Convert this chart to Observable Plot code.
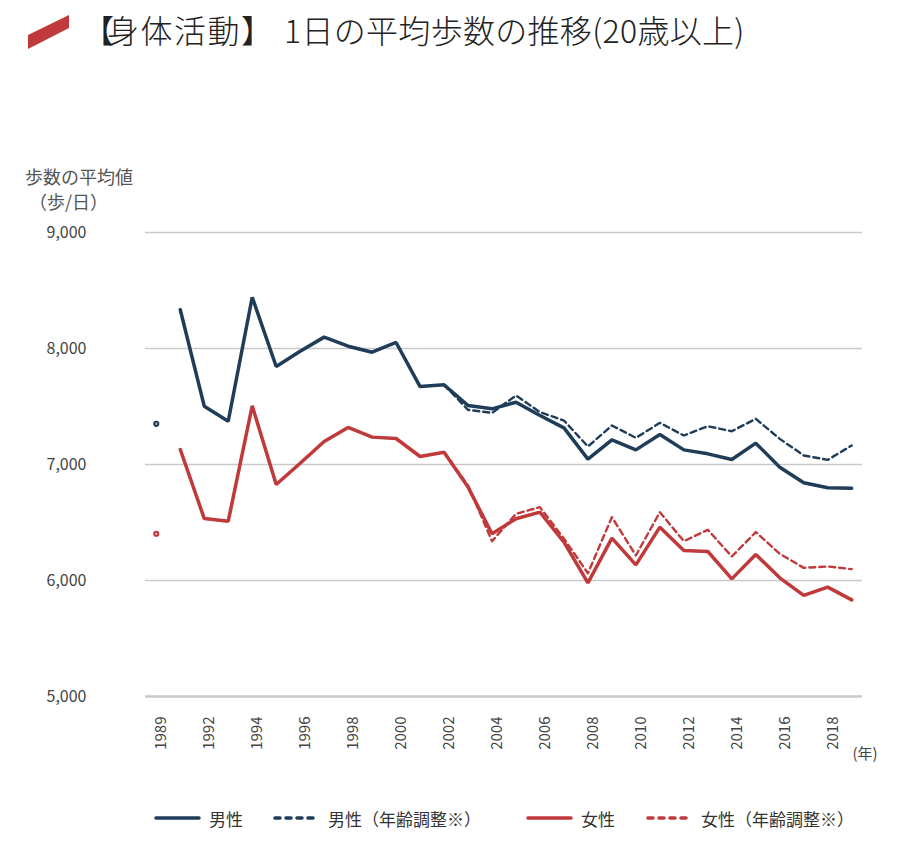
<!DOCTYPE html>
<html><head><meta charset="utf-8">
<script src="https://cdn.jsdelivr.net/npm/d3@7"></script>
<script src="https://cdn.jsdelivr.net/npm/@observablehq/plot@0.6"></script>
<style>
body{margin:0;background:#fff;font-family:"Noto Sans CJK JP","Noto Sans",sans-serif;}
#wrap{position:relative;width:906px;height:842px;overflow:hidden;}
.abs{position:absolute;}
#title{left:82px;top:9px;font-size:32px;color:#222;white-space:nowrap;line-height:40px;font-weight:300;}
#title .lb{letter-spacing:-7px;}
#title .k{letter-spacing:1.5px;}
#title .rb{letter-spacing:11px;}
#title .r{letter-spacing:0.3px;}
#ylab{left:25px;top:164px;font-size:18px;line-height:25px;color:#555;}
#chart{left:0;top:215px;}
.leg{position:absolute;top:805px;height:26px;display:flex;align-items:center;font-size:17px;color:#333;white-space:nowrap;}
.leg svg{margin-right:8px;}
</style></head><body>
<div id="wrap">
  <svg class="abs" style="left:0;top:0" width="80" height="60"><polygon points="28,35 69,15 69,28 28,49" fill="#c0393b"/></svg>
  <div id="title" class="abs"><span class="lb">【</span><span class="k">身体活動</span><span class="rb">】</span><span class="r">1日の平均歩数の推移(20歳以上)</span></div>
  <div id="ylab" class="abs">歩数の平均値<br>&nbsp;（歩/日）</div>
  <div id="chart" class="abs"></div>
  <div id="legend"></div>
</div>
<script>
const years = ["1989","1991","1992","1993","1994","1995","1996","1997","1998","1999","2000","2001","2002","2003","2004","2005","2006","2007","2008","2009","2010","2011","2012","2013","2014","2015","2016","2017","2018","2019"];
const tickYears = ["1989","1992","1994","1996","1998","2000","2002","2004","2006","2008","2010","2012","2014","2016","2018"];
const yTicks = [5000, 6000, 7000, 8000, 9000];
// 1989 value is a separate survey point (dot); line from 1991
const menSteps   = [7351, 8334, 7503, 7373, 8442, 7845, 7977, 8098, 8020, 7968, 8052, 7672, 7687, 7509, 7480, 7537, 7422, 7316, 7046, 7213, 7126, 7259, 7126, 7092, 7043, 7184, 6977, 6842, 6799, 6796];
const womenSteps = [6403, 7129, 6534, 6511, 7506, 6828, 7011, 7198, 7319, 7236, 7224, 7069, 7106, 6805, 6403, 6532, 6589, 6330, 5980, 6365, 6135, 6460, 6259, 6250, 6014, 6224, 6023, 5871, 5943, 5833];
const adjYears = ["2002","2003","2004","2005","2006","2007","2008","2009","2010","2011","2012","2013","2014","2015","2016","2017","2018","2019"];
const menAdjusted   = [7687, 7471, 7445, 7595, 7451, 7379, 7155, 7336, 7230, 7359, 7250, 7330, 7287, 7394, 7221, 7078, 7040, 7164];
const womenAdjusted = [7106, 6820, 6339, 6575, 6632, 6360, 6063, 6546, 6216, 6589, 6339, 6437, 6207, 6417, 6230, 6109, 6121, 6098];

const navy = "#1f3d59", red = "#c0393b";
const lineRows = (ys, vs) => ys.map((y, i) => ({year: y, value: vs[i]}));
const menLine = lineRows(years.slice(1), menSteps.slice(1));
const womenLine = lineRows(years.slice(1), womenSteps.slice(1));
const menDot = [{year: years[0], value: menSteps[0]}];
const womenDot = [{year: years[0], value: womenSteps[0]}];
const menAdj = lineRows(adjYears, menAdjusted);
const womenAdj = lineRows(adjYears, womenAdjusted);

const chart = Plot.plot({
  width: 906, height: 575,
  marginLeft: 145, marginRight: 44, marginTop: 17, marginBottom: 94,
  style: {fontFamily: '"Noto Sans CJK JP","Noto Sans",sans-serif', color: "#444", background: "transparent"},
  x: {type: "point", domain: years, padding: 0.45, round: false},
  y: {domain: [5000, 9000]},
  marks: [
    Plot.gridY(yTicks.slice(1), {stroke: "#c9c9c9", strokeOpacity: 1, strokeWidth: 1.5}),
    Plot.ruleY([5000], {stroke: "#c9c9c9", strokeWidth: 2.5}),
    Plot.axisY(yTicks, {tickSize: 0, tickPadding: 59, tickFormat: d3.format(","), fontSize: 16, label: null}),
    Plot.axisX(tickYears, {tickSize: 0, tickRotate: -90, tickPadding: 20, dx: 5, fontSize: 15, label: null}),
    Plot.text(["(年)"], {frameAnchor: "bottom-right", textAnchor: "start", dx: -10, dy: 62, fontSize: 15, fill: "#444"}),
    Plot.line(menAdj, {x: "year", y: "value", stroke: navy, strokeWidth: 2.4, strokeDasharray: "6,4"}),
    Plot.line(womenAdj, {x: "year", y: "value", stroke: red, strokeWidth: 2.4, strokeDasharray: "6,4"}),
    Plot.line(menLine, {x: "year", y: "value", stroke: navy, strokeWidth: 3.5, strokeLinejoin: "miter"}),
    Plot.line(womenLine, {x: "year", y: "value", stroke: red, strokeWidth: 3.5, strokeLinejoin: "miter"}),
    Plot.dot(menDot, {x: "year", y: "value", r: 2.2, stroke: navy, strokeWidth: 1.8, fill: "#8aa0b4"}),
    Plot.dot(womenDot, {x: "year", y: "value", r: 2.2, stroke: red, strokeWidth: 1.8, fill: "#e3a0a0"})
  ]
});
document.getElementById("chart").appendChild(chart);

const legendItems = [
  {label: "男性", color: navy, dash: null, left: 153},
  {label: "男性（年齢調整※）", color: navy, dash: "5,6", left: 272},
  {label: "女性", color: red, dash: null, left: 525},
  {label: "女性（年齢調整※）", color: red, dash: "5,6", left: 645}
];
const legend = document.getElementById("legend");
for (const it of legendItems) {
  const d = document.createElement("div");
  d.className = "leg";
  d.style.left = it.left + "px";
  d.innerHTML = `<svg width="48" height="10"><line x1="3" y1="5" x2="${it.dash ? 42 : 46}" y2="5" stroke="${it.color}" stroke-width="3.5" stroke-linecap="round" ${it.dash ? `stroke-dasharray="${it.dash}"` : ""}/></svg><span>${it.label}</span>`;
  legend.appendChild(d);
}
</script>
</body></html>
